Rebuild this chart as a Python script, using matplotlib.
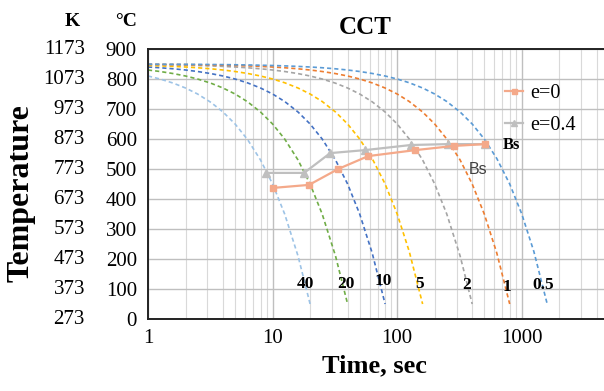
import matplotlib
matplotlib.use("Agg")
import matplotlib.pyplot as plt
from matplotlib.ticker import FixedLocator, NullFormatter, FixedFormatter

# ---------------- data ----------------
rate_labels = ['40', '20', '10', '5', '2', '1', '0.5']
rate_colors = ['#9DC3E6', '#70AD47', '#4472C4', '#FFC000', '#A5A5A5', '#ED7D31', '#5B9BD5']

# sampling times (s) shared by all cooling curves; each curve uses the first len(T) entries
t_grid = [1, 1.25, 1.6, 2, 2.5, 3.2, 4, 5, 6.3, 8, 10, 12.5, 16, 20, 25, 32, 40, 50, 63,
          80, 100, 125, 160, 200, 250, 320, 400, 500, 630, 800, 1000, 1250, 1600]

T_40 = [810, 800, 786, 770, 750, 722, 690, 650, 598, 530, 450, 350, 210, 50]
T_20 = [830, 825, 818, 810, 800, 786, 770, 750, 724, 690, 650, 600, 530, 450, 350, 210, 50]
T_10 = [840, 837.5, 834, 830, 825, 818, 810, 800, 787, 770, 750, 725, 690, 650, 600, 530,
        450, 350, 220, 50]
T_5 = [845, 843.75, 842, 840, 837.5, 834, 830, 825, 818.5, 810, 800, 787.5, 770, 750, 725,
       690, 650, 600, 535, 450, 350, 225, 50]
T_2 = [848, 847.5, 846.8, 846, 845, 843.6, 842, 840, 837.4, 834, 830, 825, 818, 810, 800,
       786, 770, 750, 724, 690, 650, 600, 530, 450, 350, 210, 50]
T_1 = [849, 848.75, 848.4, 848, 847.5, 846.8, 846, 845, 843.7, 842, 840, 837.5, 834, 830,
       825, 818, 810, 800, 787, 770, 750, 725, 690, 650, 600, 530, 450, 350, 220, 50]
T_05 = [849.5, 849.375, 849.2, 849, 848.75, 848.4, 848, 847.5, 846.85, 846, 845, 843.75,
        842, 840, 837.5, 834, 830, 825, 818.5, 810, 800, 787.5, 770, 750, 725, 690, 650,
        600, 535, 450, 350, 225, 50]

curve_temps = [T_40, T_20, T_10, T_5, T_2, T_1, T_05]

# Bs start lines
bs_e0_t = [10.1, 19.6, 33.6, 58.5, 140, 287, 509]
bs_e0_T = [437, 447, 500, 543, 563, 577, 583]
bs_e04_t = [8.9, 17.9, 29, 55.3, 129, 257, 509]
bs_e04_T = [487, 487, 553, 563, 580, 583, 583]

# axis ticks
c_ticks = [0, 100, 200, 300, 400, 500, 600, 700, 800, 900]
k_labels = ['273', '373', '473', '573', '673', '773', '873', '973', '1073', '1173']
x_major = [1, 10, 100, 1000]
x_major_labels = ['1', '10', '100', '1000']

# label positions for cooling rates (time, temp)
rate_label_t = [18.2, 38.9, 77, 151, 364, 760, 1475]
rate_label_T = [117, 117, 128, 117, 113, 107, 113]

# ---------------- figure ----------------
W, H = 604, 391
fig = plt.figure(figsize=(W / 100, H / 100), dpi=100)
serif = 'Liberation Serif'

ax_left, ax_top, ax_bottom = 148, 49, 319
ax = fig.add_axes([ax_left / W, 1 - ax_bottom / H, (W - ax_left) / W, (ax_bottom - ax_top) / H])
ax.set_xscale('log')
ax.set_xlim(1, 4570)
ax.set_ylim(0, 900)

# grid
ax.xaxis.set_major_locator(FixedLocator(x_major))
ax.xaxis.set_major_formatter(FixedFormatter(x_major_labels))
minors = [m * d for d in [1, 10, 100, 1000] for m in range(2, 10)]
ax.xaxis.set_minor_locator(FixedLocator(minors))
ax.xaxis.set_minor_formatter(NullFormatter())
ax.set_yticks(c_ticks)
ax.set_yticklabels([str(c) for c in c_ticks])
ax.grid(True, which='major', axis='both', color='#BFBFBF', lw=1.0, zorder=0)
ax.grid(True, which='minor', axis='x', color='#D9D9D9', lw=0.8, zorder=0)
ax.set_axisbelow(True)

ax.tick_params(axis='both', which='both', length=0)
ax.tick_params(axis='y', pad=8, labelsize=15)
ax.tick_params(axis='x', pad=7, labelsize=15)
for lab in ax.get_xticklabels() + ax.get_yticklabels():
    lab.set_fontfamily(serif)

for side in ['left', 'bottom', 'top']:
    ax.spines[side].set_color('#222222')
    ax.spines[side].set_linewidth(1.4)
ax.spines['right'].set_visible(False)

# cooling curves
for T, c in zip(curve_temps, rate_colors):
    ax.plot(t_grid[:len(T)], T, color=c, lw=1.2, ls=(0, (2.5, 1.8)), zorder=2)

# Bs lines
ax.plot(bs_e0_t, bs_e0_T, color='#F4A98A', lw=1.6, marker='s', ms=4.5,
        mec='#F4A98A', mfc='#F4A98A', zorder=4, label='e=0')
ax.plot(bs_e04_t, bs_e04_T, color='#BFBFBF', lw=1.6, marker='^', ms=5.5,
        mec='#BFBFBF', mfc='#BFBFBF', zorder=3, label='e=0.4')

# rate labels
for lab, tx, ty in zip(rate_labels, rate_label_t, rate_label_T):
    ax.text(tx, ty, lab, ha='center', va='center', fontsize=12.5,
            fontweight='bold', fontfamily=serif, zorder=5)

# Bs annotations
ax.text(700, 580, 'Bs', ha='left', va='center', fontsize=12,
        fontweight='bold', fontfamily=serif, zorder=5)
ax.text(445, 497, 'Bs', ha='center', va='center', fontsize=11.5,
        fontfamily='Liberation Sans', color='#404040', zorder=5)

# K column
ytr = ax.get_yaxis_transform()
kx = (85 - ax_left) / (W - ax_left)
for c, k in zip(c_ticks, k_labels):
    ax.text(kx, c, k, transform=ytr, ha='right', va='center', fontsize=15,
            fontfamily=serif, clip_on=False)

# headers
fig.text(72 / W, 1 - 22 / H, 'K', ha='center', va='center', fontsize=14,
         fontweight='bold', fontfamily=serif)
fig.text(137 / W, 1 - 22 / H, '°C', ha='right', va='center', fontsize=14,
         fontweight='bold', fontfamily=serif)

# title
fig.text(365 / W, 1 - 28 / H, 'CCT', ha='center', va='center', fontsize=18,
         fontweight='bold', fontfamily=serif)

# axis labels
fig.text(374 / W, 1 - 366 / H, 'Time, sec', ha='center', va='center', fontsize=19,
         fontweight='bold', fontfamily=serif)
fig.text(21 / W, 1 - 193 / H, 'Temperature', ha='center', va='center', fontsize=23,
         fontweight='bold', fontfamily=serif, rotation=90)

# legend
leg = ax.legend(loc='upper left', bbox_to_anchor=(505 / W, 1 - 84 / H),
                bbox_transform=fig.transFigure, frameon=False, borderpad=0,
                borderaxespad=0, handlelength=0.9, handletextpad=0.35,
                labelspacing=0.65, prop={'family': serif, 'size': 14.5},
                markerscale=0.8)

fig.savefig('out.png', dpi=100)
